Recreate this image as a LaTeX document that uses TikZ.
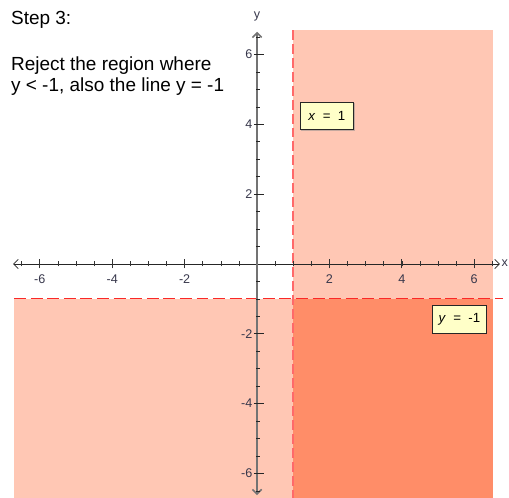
\documentclass[tikz,border=0pt]{standalone}
\usepackage{fontspec}
\setmainfont{Liberation Sans}
\usetikzlibrary{arrows.meta,positioning,shadows}
\definecolor{lightregion}{RGB}{255,199,180}
\definecolor{darkregion}{RGB}{255,141,104}
\definecolor{vline}{RGB}{255,105,105}
\definecolor{hline}{RGB}{250,40,40}
\definecolor{yaxis}{RGB}{115,115,115}
\definecolor{ticktext}{RGB}{55,55,75}
\definecolor{notefill}{RGB}{255,255,200}

\begin{document}
\begin{tikzpicture}[x=0.959cm,y=0.925cm,>={Straight Barb[length=3.5pt,width=7pt]}]
\tikzstyle{steptext}=[anchor=base west,inner sep=0pt,font=\fontsize{14.3}{15}\selectfont]
\tikzstyle{ticklbl}=[inner sep=0pt,text=ticktext,font=\fontsize{9.5}{10}\selectfont]
\tikzstyle{note}=[draw=black!85,fill=notefill,line width=0.6pt,minimum width=40.5pt,minimum height=21pt,inner sep=2pt,font=\fontsize{10}{11}\selectfont,drop shadow={shadow xshift=0.8pt,shadow yshift=-0.8pt,fill=black!45}]
\useasboundingbox (-7.10,-6.70) rectangle (6.96,7.56);
% regions
\fill[lightregion] (1,-6.70) rectangle (6.51,6.70);
\fill[lightregion] (-6.71,-6.70) rectangle (1,-1);
\fill[darkregion] (1,-6.70) rectangle (6.51,-1);
% boundary lines
\draw[vline,line width=1.5pt,dash pattern=on 7.5pt off 3pt] (1,6.70) -- (1,-6.70);
\draw[hline,line width=0.8pt,dash pattern=on 9pt off 3.5pt] (-6.71,-1) -- (6.80,-1);
% axes
\draw[<->,black!85,line width=0.6pt] (-6.74,0) -- (6.71,0);
\draw[<->,yaxis,line width=1.2pt] (0,-6.62) -- (0,6.65);
\node[ticklbl,anchor=east] (xl) at (6.94,0.02) {x};
\node[ticklbl] (yl) at (0,7.10) {y};
\foreach \t in {-6.5,-6,...,6.5}{
  \ifdim \t pt=0pt\relax\else
  \draw[black!80,line width=0.5pt] (\t,0) ++(0,-1.9pt) -- ++(0,3.8pt);
  \draw[black!85,line width=0.5pt] (0,\t) ++(-0.5pt,0) -- ++(3pt,0);
  \fi}
\foreach \t in {-6,-4,-2,2,4,6}{
  \draw[black!80,line width=0.6pt] (\t,0) ++(0,-3.4pt) -- ++(0,6.8pt);
  \draw[black!85,line width=0.6pt] (0,\t) ++(-2.3pt,0) -- ++(7.6pt,0);
  \node[ticklbl] (xt\t) at (\t,-0.43) {\t};
  \node[ticklbl,anchor=east] (yt\t) at (-0.12,\t) {\t};}
% text
\node[steptext] (step) at (-6.80,6.85) {Step 3:};
\node[steptext] (rej1) at (-6.80,5.55) {Reject the region where};
\node[steptext] (rej2) at (-6.80,4.95) {y < -1, also the line y = -1};
% labels
\node[note] (xeq) at (1.93,4.24) {\textit{x}~~=~~1};
\node[note] (yeq) at (5.59,-1.58) {\textit{y}~~=~~-1};
\end{tikzpicture}
\end{document}
